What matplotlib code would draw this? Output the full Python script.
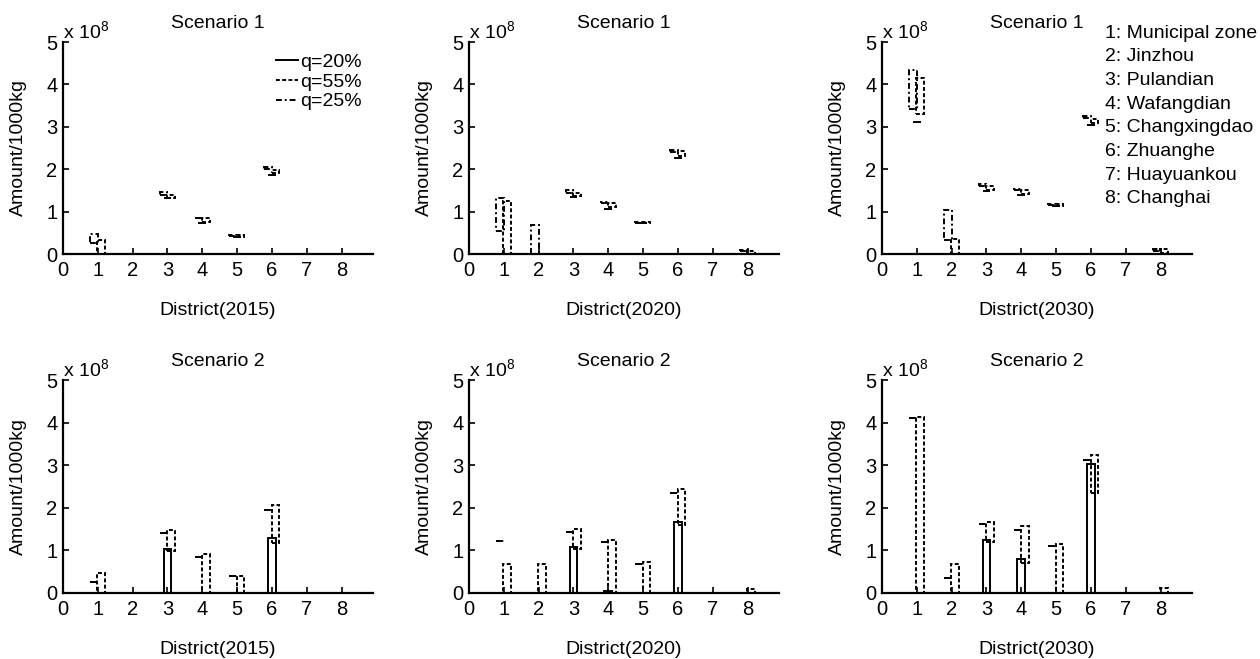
import matplotlib
matplotlib.use("Agg")
import matplotlib.pyplot as plt
from matplotlib.lines import Line2D
import numpy as np

plt.rcParams['font.family'] = ['Liberation Sans', 'DejaVu Sans']
plt.rcParams['mathtext.fontset'] = 'custom'
plt.rcParams['mathtext.rm'] = 'Liberation Sans'
plt.rcParams['mathtext.default'] = 'regular'

districts = [1, 2, 3, 4, 5, 6, 7, 8]
district_names = ["Municipal zone", "Jinzhou", "Pulandian", "Wafangdian",
                  "Changxingdao", "Zhuanghe", "Huayuankou", "Changhai"]
series_labels = ["q=20%", "q=55%", "q=25%"]

# values in units of 1e8 (x 1000kg); each series is an interval [low, high]
# Scenario 1, 2015
s1_2015_q20_lo = [0, 0, 1.31, 0.72, 0.40, 1.86, 0, 0]
s1_2015_q20_hi = [0, 0, 1.31, 0.72, 0.40, 1.86, 0, 0]
s1_2015_q55_lo = [0, 0, 1.32, 0.76, 0.40, 1.90, 0, 0]
s1_2015_q55_hi = [0.32, 0, 1.40, 0.84, 0.44, 1.98, 0, 0]
s1_2015_q25_lo = [0.25, 0, 1.40, 0.84, 0.43, 2.00, 0, 0]
s1_2015_q25_hi = [0.46, 0, 1.46, 0.86, 0.45, 2.06, 0, 0]
# Scenario 1, 2020
s1_2020_q20_lo = [0, 0, 1.35, 1.07, 0.72, 2.26, 0, 0]
s1_2020_q20_hi = [0, 0, 1.35, 1.07, 0.72, 2.26, 0, 0]
s1_2020_q55_lo = [0, 0, 1.37, 1.10, 0.72, 2.32, 0, 0]
s1_2020_q55_hi = [1.24, 0, 1.45, 1.20, 0.76, 2.42, 0, 0.07]
s1_2020_q25_lo = [0.55, 0, 1.43, 1.20, 0.74, 2.40, 0, 0.08]
s1_2020_q25_hi = [1.33, 0.68, 1.50, 1.22, 0.76, 2.45, 0, 0.10]
# Scenario 1, 2030
s1_2030_q20_lo = [3.12, 0, 1.48, 1.38, 1.13, 3.04, 0, 0]
s1_2030_q20_hi = [3.12, 0, 1.48, 1.38, 1.13, 3.04, 0, 0]
s1_2030_q55_lo = [3.30, 0, 1.50, 1.42, 1.13, 3.08, 0, 0.03]
s1_2030_q55_hi = [4.15, 0.35, 1.60, 1.50, 1.17, 3.18, 0, 0.12]
s1_2030_q25_lo = [3.43, 0.33, 1.60, 1.50, 1.15, 3.20, 0, 0.08]
s1_2030_q25_hi = [4.33, 1.03, 1.65, 1.53, 1.17, 3.25, 0, 0.12]
# Scenario 2, 2015
s2_2015_q20_lo = [0, 0, 0, 0, 0, 0, 0, 0]
s2_2015_q20_hi = [0, 0, 1.04, 0, 0, 1.28, 0, 0]
s2_2015_q55_lo = [0, 0, 0.98, 0, 0, 1.17, 0, 0]
s2_2015_q55_hi = [0.48, 0, 1.47, 0.91, 0.41, 2.06, 0, 0]
s2_2015_q25_lo = [0.26, 0, 1.40, 0.84, 0.39, 1.94, 0, 0]
s2_2015_q25_hi = [0.26, 0, 1.40, 0.84, 0.39, 1.94, 0, 0]
# Scenario 2, 2020
s2_2020_q20_lo = [0, 0, 0, 0, 0, 0, 0, 0]
s2_2020_q20_hi = [0, 0, 1.08, 0.05, 0, 1.67, 0, 0]
s2_2020_q55_lo = [0, 0, 1.04, 0, 0, 1.59, 0, 0]
s2_2020_q55_hi = [0.67, 0.67, 1.51, 1.24, 0.73, 2.45, 0, 0.09]
s2_2020_q25_lo = [1.22, 0, 1.43, 1.20, 0.67, 2.35, 0, 0]
s2_2020_q25_hi = [1.22, 0, 1.43, 1.20, 0.67, 2.35, 0, 0]
# Scenario 2, 2030
s2_2030_q20_lo = [0, 0, 0, 0, 0, 0, 0, 0]
s2_2030_q20_hi = [0, 0, 1.25, 0.80, 0, 3.03, 0, 0]
s2_2030_q55_lo = [0, 0, 1.20, 0.71, 0, 2.35, 0, 0]
s2_2030_q55_hi = [4.12, 0.67, 1.67, 1.57, 1.14, 3.25, 0, 0.12]
s2_2030_q25_lo = [4.10, 0.36, 1.61, 1.49, 1.10, 3.12, 0, 0]
s2_2030_q25_hi = [4.10, 0.36, 1.61, 1.49, 1.10, 3.12, 0, 0]

panels = [
    ("Scenario 1", "District(2015)", (s1_2015_q20_lo, s1_2015_q20_hi), (s1_2015_q55_lo, s1_2015_q55_hi), (s1_2015_q25_lo, s1_2015_q25_hi)),
    ("Scenario 1", "District(2020)", (s1_2020_q20_lo, s1_2020_q20_hi), (s1_2020_q55_lo, s1_2020_q55_hi), (s1_2020_q25_lo, s1_2020_q25_hi)),
    ("Scenario 1", "District(2030)", (s1_2030_q20_lo, s1_2030_q20_hi), (s1_2030_q55_lo, s1_2030_q55_hi), (s1_2030_q25_lo, s1_2030_q25_hi)),
    ("Scenario 2", "District(2015)", (s2_2015_q20_lo, s2_2015_q20_hi), (s2_2015_q55_lo, s2_2015_q55_hi), (s2_2015_q25_lo, s2_2015_q25_hi)),
    ("Scenario 2", "District(2020)", (s2_2020_q20_lo, s2_2020_q20_hi), (s2_2020_q55_lo, s2_2020_q55_hi), (s2_2020_q25_lo, s2_2020_q25_hi)),
    ("Scenario 2", "District(2030)", (s2_2030_q20_lo, s2_2030_q20_hi), (s2_2030_q55_lo, s2_2030_q55_hi), (s2_2030_q25_lo, s2_2030_q25_hi)),
]

styles = [
    dict(offset=0.0, ls='-'),
    dict(offset=0.10, ls=(0, (2.0, 1.2))),
    dict(offset=-0.11, ls=(0, (3.0, 1.5, 1.0, 1.5))),
]
bar_w = 0.22

fig = plt.figure(figsize=(12.6, 6.59), dpi=100)
W, H = 1260.0, 659.0
col_left = [63, 469, 882]
col_w = 310
rows = [(42, 254), (380, 593)]

x = np.array(districts, dtype=float)
for i, (title, xlabel, s20, s55, s25) in enumerate(panels):
    r, c = divmod(i, 3)
    top, bot = rows[r]
    ax = fig.add_axes([col_left[c] / W, 1 - bot / H, col_w / W, (bot - top) / H])
    for (lo, hi), st in zip([s20, s55, s25], styles):
        lo = np.array(lo); hi = np.array(hi)
        ax.bar(x + st['offset'], hi - lo, bottom=lo, width=bar_w, fill=False,
               edgecolor='black', linewidth=1.4, linestyle=st['ls'])
    ax.set_xlim(0, 8.9)
    ax.set_ylim(0, 5)
    ax.set_xticks(range(0, 9))
    ax.set_yticks(range(0, 6))
    for s in ['top', 'right']:
        ax.spines[s].set_visible(False)
    for s in ['left', 'bottom']:
        ax.spines[s].set_linewidth(1.6)
    ax.tick_params(direction='in', length=4, width=1.2, labelsize=14.5, pad=4)
    ax.tick_params(axis='x', pad=5)
    ax.set_title(title, fontsize=14, pad=10)
    ax.set_xlabel(xlabel, fontsize=14, labelpad=16)
    ax.set_ylabel("Amount/1000kg", fontsize=14, labelpad=14)
    ax.text(0.0, 1.0, r'x 10$^{8}$', transform=ax.transAxes, ha='left',
            va='bottom', fontsize=14)
    if i == 0:
        handles = [Line2D([0], [0], color='black', lw=1.4, linestyle=st['ls']) for st in styles]
        ax.legend(handles, series_labels, loc='upper right', frameon=False,
                  fontsize=14, handlelength=1.1, handletextpad=0.1,
                  labelspacing=0.1, borderaxespad=0.2)

for k, name in enumerate(district_names):
    fig.text(1105 / W, 1 - (33 + k * 23.7) / H, f"{districts[k]}: {name}",
             fontsize=14, ha='left', va='center')

fig.savefig("out.png", dpi=100)
